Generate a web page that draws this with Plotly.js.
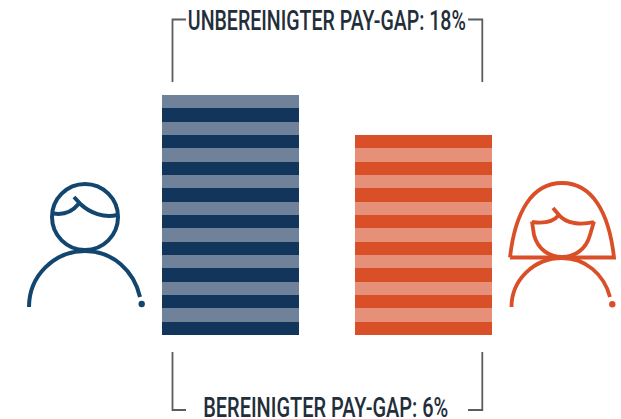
<!DOCTYPE html>
<html><head><meta charset="utf-8">
<script src="https://cdn.plot.ly/plotly-3.0.1.min.js"></script>
<style>html,body{margin:0;padding:0;background:#fff;overflow:hidden}#c{width:621px;height:419px}</style>
</head><body><div id="c"></div>
<script>
const categories = ["Männer", "Frauen"];
const menBands = [1,1,1,1,1,1,1,1,1,1,1,1,1,1,1,1,1,1];
const womenBands = [1,1,1,1,1,1,1,1,1,1,1,1,1,1,1];
const topLabel = "UNBEREINIGTER PAY-GAP: 18%";
const bottomLabel = "BEREINIGTER PAY-GAP: 6%";
const labelWidths = [278, 245];
const menDark = "#12365b", menLight = "#708299";
const womenDark = "#d94f27", womenLight = "#e69079";
const manInk = "#12466f", womanInk = "#d94f27", bracketInk = "#5a5c60", textInk = "#232e3b";

const W = 621, H = 419;
const px = x => (x / W).toFixed(5);
const py = y => (1 - y / H).toFixed(5);
function P(cmds) {
  return cmds.map(c => c[0] + c.slice(1).reduce((a, v, i) =>
    a + (i ? " " : "") + (i % 2 === 0 ? px(v) : py(v)), "")).join(" ");
}
function stroke(cmds, color, w) {
  return {type: "path", xref: "paper", yref: "paper", path: P(cmds),
    line: {color, width: w}, fillcolor: "rgba(0,0,0,0)", layer: "above"};
}
function disc(cx, cy, r, color, w, fill) {
  return {type: "circle", xref: "paper", yref: "paper",
    x0: px(cx - r), x1: px(cx + r), y0: py(cy + r), y1: py(cy - r),
    line: {color, width: w}, fillcolor: fill || "rgba(0,0,0,0)", layer: "above"};
}

const n = Math.max(menBands.length, womenBands.length);
const traces = [];
for (let i = 0; i < n; i++) {
  traces.push({
    type: "bar", x: categories,
    y: [i < menBands.length ? menBands[i] : 0, i < womenBands.length ? womenBands[i] : 0],
    marker: {color: i % 2 === 0 ? [menDark, womenDark] : [menLight, womenLight], line: {width: 0}},
    width: 137 / 193, hoverinfo: "skip", showlegend: false
  });
}

const shapes = [
  stroke([["M",186,19.5],["L",172.5,19.5],["L",172.5,82]], bracketInk, 1.8),
  stroke([["M",468,19.5],["L",482.3,19.5],["L",482.3,82]], bracketInk, 1.8),
  stroke([["M",172.5,352],["L",172.5,410],["L",186,410]], bracketInk, 1.8),
  stroke([["M",482.3,352],["L",482.3,410],["L",468,410]], bracketInk, 1.8),
  disc(85, 217, 33, manInk, 4),
  stroke([["M",53.5,213.5],["C",63,215,72,212,78.5,204]], manInk, 4),
  stroke([["M",74,197],["L",81,204.5],["C",90,213,104,218,117,215]], manInk, 4),
  stroke([["M",29,307],["C",29,276,54,251,85,251],["C",113,251,134,271,140,297]], manInk, 4),
  disc(141.7, 304, 3.2, manInk, 0, manInk),
  stroke([["M",510,257.5],["C",515,212,532,183,562,183],["C",592,183,609,212,614,257.5],["L",510,257.5]], womanInk, 3.8),
  stroke([["M",532,221.5],["L",534,235],["C",538,250,550,257,562,257],["C",574,257,586,250,590,235],["L",594,221.5]], womanInk, 3.8),
  stroke([["M",532,222],["C",545,224,554,221,559,215]], womanInk, 3.8),
  stroke([["M",553,208],["L",559,215],["C",566,224,581,225,594,222]], womanInk, 3.8),
  stroke([["M",511.5,307],["C",511.5,280,534,258,562,258],["C",585,258,604,274,610,297]], womanInk, 3.8),
  disc(612.3, 304.3, 3.2, womanInk, 0, womanInk)
];

const font = {family: "Roboto, sans-serif", size: 27, color: textInk, weight: 500};
const layout = {
  width: W, height: H, margin: {l: 0, r: 0, t: 0, b: 0},
  paper_bgcolor: "#fff", plot_bgcolor: "#fff",
  barmode: "stack", bargap: 0,
  showlegend: false,
  xaxis: {type: "category", range: [-230.5 / 193, (W - 230.5) / 193], visible: false, fixedrange: true},
  yaxis: {range: [-(H - 335) / 13.333, 335 / 13.333], visible: false, fixedrange: true},
  shapes,
  annotations: [
    {xref: "paper", yref: "paper", x: px(327), y: py(21.5), text: topLabel, showarrow: false, font, xanchor: "center", yanchor: "middle"},
    {xref: "paper", yref: "paper", x: px(326.5), y: py(408.5), text: bottomLabel, showarrow: false, font, xanchor: "center", yanchor: "middle"}
  ]
};
Plotly.newPlot("c", traces, layout, {displayModeBar: false, staticPlot: true}).then(gd => {
  // The reference uses a condensed face: squeeze the real text to its measured width.
  gd.querySelectorAll(".annotation-text").forEach((t, i) => {
    t.setAttribute("textLength", labelWidths[i]);
    t.setAttribute("lengthAdjust", "spacingAndGlyphs");
  });
});
</script></body></html>
